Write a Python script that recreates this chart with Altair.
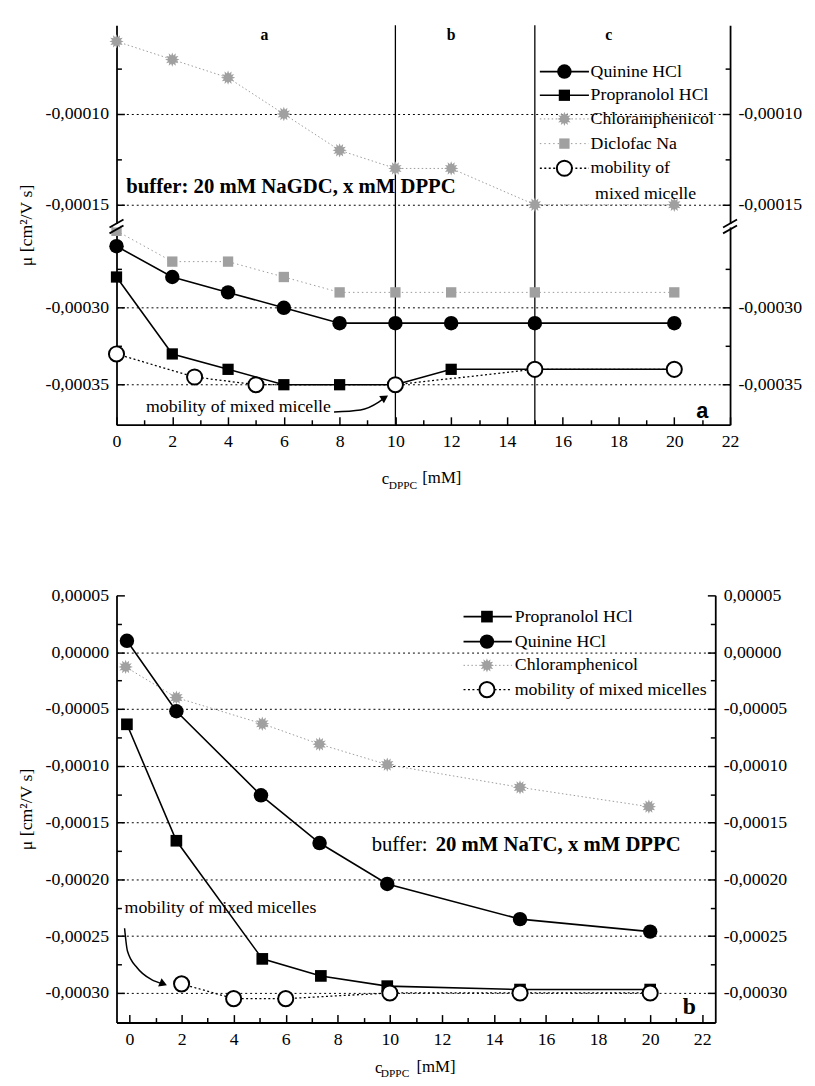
import json
import math
import altair as alt
import pandas as pd

FONT = "Liberation Serif"

# ---------------- panel a : 20 mM NaGDC, x mM DPPC ----------------
a_conc = [0, 2, 4, 6, 8, 10, 12, 15, 20]
a_quinine = [-0.00026, -0.00028, -0.00029, -0.00030, -0.00031, -0.00031, -0.00031, -0.00031, -0.00031]
a_propranolol = [-0.00028, -0.00033, -0.00034, -0.00035, -0.00035, -0.00035, -0.00034, -0.00034, -0.00034]
a_chloramphenicol = [-0.00006, -0.00007, -0.00008, -0.00010, -0.00012, -0.00013, -0.00013, -0.00015, -0.00015]
a_diclofenac = [-0.00025, -0.00027, -0.00027, -0.00028, -0.00029, -0.00029, -0.00029, -0.00029, -0.00029]
a_micelle_conc = [0, 2.8, 5, 10, 15, 20]
a_micelle = [-0.00033, -0.000345, -0.00035, -0.00035, -0.00034, -0.00034]
a_region_bounds = [10, 15]
a_region_names = ["a", "b", "c"]
a_region_centers = [5.3, 12.0, 17.65]
a_y_ticks = [-0.00035, -0.00030, -0.00015, -0.00010]
a_y_minor = [-0.000325, -0.000275, -0.000125, -0.000075]
a_legend = ["Quinine HCl", "Propranolol HCl", "Chloramphenicol", "Diclofac Na", "mobility of"]
a_legend_extra = "mixed micelle"

# ---------------- panel b : 20 mM NaTC, x mM DPPC ----------------
b_quin_conc = [-0.1, 1.8, 5.05, 7.3, 9.9, 15.0, 20.0]
b_quinine = [0.00001, -0.000052, -0.000126, -0.000168, -0.000204, -0.000235, -0.000246]
b_prop_conc = [-0.1, 1.8, 5.1, 7.35, 9.9, 15.0, 20.0]
b_propranolol = [-0.0000635, -0.000166, -0.00027, -0.000285, -0.000294, -0.000297, -0.000297]
b_chlor_conc = [-0.15, 1.8, 5.1, 7.3, 9.9, 15.0, 19.95]
b_chloramphenicol = [-0.000013, -0.00004, -0.000063, -0.000081, -0.000099, -0.000119, -0.000136]
b_mic_conc = [2.0, 4.0, 6.0, 10.0, 15.0, 20.0]
b_micelle = [-0.000292, -0.000305, -0.000305, -0.0003, -0.0003, -0.0003]
b_y_ticks = [0.00005, 0.0, -0.00005, -0.00010, -0.00015, -0.00020, -0.00025, -0.00030]
b_y_minor = [0.000025, -0.000025, -0.000075, -0.000125, -0.000175, -0.000225, -0.000275]
b_grid = b_y_ticks[1:]
b_legend = ["Propranolol HCl", "Quinine HCl", "Chloramphenicol", "mobility of mixed micelles"]

x_ticks = list(range(0, 23, 2))
x_minor = list(range(1, 22, 2))
x_title = ["c", "DPPC", "[mM]"]
y_title = "μ [cm²/V s]"

# ---------------- geometry ----------------
A_W, A_H = 622, 405
A_XDOM = [0, 22]
A_YDOM = [0, 405]          # broken axis: positions measured from the bottom
A_SPLIT = -0.0002
A_LOW0, A_LOWK = -0.000376, 78.0
A_UPREF, A_UP0, A_UPK = -0.00015, 223.0, 92.0

B_W, B_H = 607, 433
B_XDOM = [-0.5, 22.5]
B_YDOM = [-0.000326, 0.00005]


def a_pos(v):
    if v > A_SPLIT:
        return A_UP0 + (v - A_UPREF) / 0.00005 * A_UPK
    return (v - A_LOW0) / 0.00005 * A_LOWK


A_EXPR = (f"datum.mu > {A_SPLIT} ? {A_UP0} + (datum.mu - ({A_UPREF})) / 0.00005 * {A_UPK}"
          f" : (datum.mu - ({A_LOW0})) / 0.00005 * {A_LOWK}")
B_EXPR = "datum.mu"


def fmt(v):
    return ("-" if v < 0 else "") + f"{abs(v):.5f}".replace(".", ",")


def sc(dom):
    return alt.Scale(domain=dom, nice=False, zero=False)


pts = []
for i in range(24):
    r = 1.0 if i % 2 == 0 else 0.6
    ang = math.pi * i / 12
    pts.append(f"{r * math.sin(ang):.3f},{-r * math.cos(ang):.3f}")
STAR = "M" + " L".join(pts) + " Z"


def sty(kind, big=True):
    if kind == "quinine":
        return dict(line=dict(color="black", strokeWidth=1.6),
                    point=dict(shape="circle", filled=True, color="black", size=215))
    if kind == "propranolol":
        return dict(line=dict(color="black", strokeWidth=1.6),
                    point=dict(shape="square", filled=True, color="black", size=130 if big else 140))
    if kind == "chlor":
        return dict(line=dict(color="#9a9a9a", strokeWidth=1, strokeDash=[1.5, 2.5]),
                    point=dict(shape=STAR, filled=True, color="#a0a0a0", size=210))
    if kind == "diclo":
        return dict(line=dict(color="#9a9a9a", strokeWidth=1, strokeDash=[1.5, 3]),
                    point=dict(shape="square", filled=True, color="#a0a0a0", size=110))
    return dict(line=dict(color="black", strokeWidth=1.3, strokeDash=[2, 2.5]),
                point=dict(shape="circle", filled=True, fill="white", stroke="black",
                           strokeWidth=2, size=235))


def series(xv, yv, st, xdom, ydom, expr):
    df = pd.DataFrame({"x": xv, "mu": yv})
    base = alt.Chart(df).transform_calculate(yy=expr).encode(
        x=alt.X("x:Q", scale=sc(xdom), axis=None),
        y=alt.Y("yy:Q", scale=sc(ydom), axis=None))
    return [base.mark_line(**st["line"]), base.mark_point(opacity=1, **st["point"])]


def legend(names, styles, ys, x0, x1, xs_, xt, xdom, ydom):
    out = []
    for name, st, yv in zip(names, styles, ys):
        df = pd.DataFrame({"x0": [x0], "x1": [x1], "xs": [xs_], "xt": [xt], "yy": [yv], "label": [name]})
        b = alt.Chart(df)
        yenc = alt.Y("yy:Q", scale=sc(ydom), axis=None)
        out.append(b.mark_rule(**st["line"]).encode(
            x=alt.X("x0:Q", scale=sc(xdom), axis=None), x2="x1:Q", y=yenc))
        out.append(b.mark_point(opacity=1, **st["point"]).encode(
            x=alt.X("xs:Q", scale=sc(xdom), axis=None), y=yenc))
        out.append(b.mark_text(align="left", baseline="middle", font=FONT, fontSize=18, color="black").encode(
            x=alt.X("xt:Q", scale=sc(xdom), axis=None), y=yenc, text="label:N"))
    return out


def text_at(xv, yv, txt, xdom, ydom, **kw):
    df = pd.DataFrame({"x": [xv], "yy": [yv], "t": [txt]})
    opts = dict(align="left", baseline="middle", font=FONT, fontSize=18, color="black")
    opts.update(kw)
    return alt.Chart(df).mark_text(**opts).encode(
        x=alt.X("x:Q", scale=sc(xdom), axis=None),
        y=alt.Y("yy:Q", scale=sc(ydom), axis=None), text="t:N")


def arrow(xv, yv, angle, xdom, ydom):
    df = pd.DataFrame({"x": xv, "yy": yv, "o": list(range(len(xv)))})
    b = alt.Chart(df).encode(x=alt.X("x:Q", scale=sc(xdom), axis=None),
                             y=alt.Y("yy:Q", scale=sc(ydom), axis=None), order="o:Q")
    line = b.mark_line(color="black", strokeWidth=1.5, interpolate="monotone")
    head = alt.Chart(df.tail(1)).mark_point(shape="triangle-up", filled=True, color="black",
                                            size=80, opacity=1, angle=angle).encode(
        x=alt.X("x:Q", scale=sc(xdom), axis=None), y=alt.Y("yy:Q", scale=sc(ydom), axis=None))
    return [line, head]


def xtitle(xs_, ys_):
    out = []
    sizes = [17, 11.5, 17]
    for t, xp, yp, fs in zip(x_title, xs_, ys_, sizes):
        out.append(alt.Chart(pd.DataFrame({"t": [t]})).mark_text(
            align="left", baseline="middle", font=FONT, fontSize=fs, color="black").encode(
            x=alt.value(xp), y=alt.value(yp), text="t:N"))
    return out


def label_expr(pos, txt, tol):
    parts = [f"abs(datum.value - ({p})) < {tol} ? '{t}'" for p, t in zip(pos, txt)]
    return " : ".join(parts) + " : ''"


def axes(W, H, xdom, ydom, yt_pos, yt_txt, ymin_pos, grid_pos, tol):
    lexpr = label_expr(yt_pos, yt_txt, tol)
    major_test = f"indexof({json.dumps(yt_pos)}, datum.value) >= 0"

    def car(xaxis, yaxis):
        df = pd.DataFrame({"x": [xdom[0]], "yy": [ydom[0]]})
        return alt.Chart(df).mark_point(opacity=0, size=1).encode(
            x=alt.X("x:Q", scale=sc(xdom), axis=xaxis),
            y=alt.Y("yy:Q", scale=sc(ydom), axis=yaxis))

    lab = dict(values=yt_pos, labelExpr=lexpr, labelFont=FONT, labelFontSize=18, labelColor="black",
               labelPadding=8, labelFlush=False, labelOverlap=False, ticks=False, grid=False,
               domain=True, domainColor="black", domainWidth=1.8)
    yL = alt.Axis(orient="left", title=y_title, titleFont=FONT, titleFontSize=18,
                  titleFontWeight="normal", titleColor="black", titlePadding=10, **lab)
    yR = alt.Axis(orient="right", title=None, **lab)
    yG = alt.Axis(orient="left", values=grid_pos, labels=False, ticks=False, domain=False, grid=True,
                  gridColor="black", gridDash=[2, 3], gridWidth=1, title=None)
    tk = dict(values=yt_pos + ymin_pos, labels=False, domain=False, grid=False, ticks=True,
              tickColor="black", tickWidth=1.5,
              tickSize={"condition": {"test": major_test, "value": 8}, "value": 5},
              title=None, offset=-W)
    yInL = alt.Axis(orient="right", **tk)
    yInR = alt.Axis(orient="left", **tk)
    xB = alt.Axis(orient="bottom", values=x_ticks, labelFont=FONT, labelFontSize=18, labelColor="black",
                  labelPadding=8, labelFlush=False, labelOverlap=False, ticks=False, grid=False,
                  domain=True, domainColor="black", domainWidth=1.8, title=None, format="d")
    xIn = alt.Axis(orient="top", values=x_ticks + x_minor, labels=False, domain=False, grid=False,
                   ticks=True, tickColor="black", tickWidth=1.5,
                   tickSize={"condition": {"test": "datum.value % 2 == 0", "value": 8}, "value": 5},
                   title=None, offset=-H)
    return [car(None, yG), car(xB, yL), car(xIn, yR), car(None, yInL), car(None, yInR)]


def break_mark(xc, yc, xdom, ydom):
    df = pd.DataFrame({"x0": [xc - 0.25, xc - 0.25], "x1": [xc + 0.25, xc + 0.25],
                       "y0": [yc - 2, yc - 8], "y1": [yc + 6, yc]})
    gap = pd.DataFrame({"x0": [xc - 0.12], "x1": [xc + 0.12], "y0": [yc - 2], "y1": [yc + 1.5]})
    r = alt.Chart(gap).mark_rect(color="white").encode(
        x=alt.X("x0:Q", scale=sc(xdom), axis=None), x2="x1:Q",
        y=alt.Y("y0:Q", scale=sc(ydom), axis=None), y2="y1:Q")
    l = alt.Chart(df).mark_rule(color="black", strokeWidth=1.8).encode(
        x=alt.X("x0:Q", scale=sc(xdom), axis=None), x2="x1:Q",
        y=alt.Y("y0:Q", scale=sc(ydom), axis=None), y2="y1:Q")
    return [r, l]


# ---------------- build panel a ----------------
a_layers = axes(A_W, A_H, A_XDOM, A_YDOM, [a_pos(v) for v in a_y_ticks], [fmt(v) for v in a_y_ticks],
                [a_pos(v) for v in a_y_minor], [a_pos(v) for v in a_y_ticks], 0.5)
a_layers.append(alt.Chart(pd.DataFrame({"x": a_region_bounds})).mark_rule(color="black", strokeWidth=1.3).encode(
    x=alt.X("x:Q", scale=sc(A_XDOM), axis=None)))
for nm, xc in zip(a_region_names, a_region_centers):
    a_layers.append(text_at(xc, 395, nm, A_XDOM, A_YDOM, align="center", fontSize=16, fontWeight="bold"))
a_layers += series(a_conc, a_chloramphenicol, sty("chlor"), A_XDOM, A_YDOM, A_EXPR)
a_layers += series(a_conc, a_diclofenac, sty("diclo"), A_XDOM, A_YDOM, A_EXPR)
a_layers += series(a_conc, a_quinine, sty("quinine"), A_XDOM, A_YDOM, A_EXPR)
a_layers += series(a_conc, a_propranolol, sty("propranolol"), A_XDOM, A_YDOM, A_EXPR)
a_layers += series(a_micelle_conc, a_micelle, sty("micelle"), A_XDOM, A_YDOM, A_EXPR)
a_layers += legend(a_legend, [sty("quinine"), sty("propranolol"), sty("chlor"), sty("diclo"), sty("micelle")],
                   [358, 334, 310, 285, 260], 15.18, 16.94, 16.06, 17.0, A_XDOM, A_YDOM)
a_layers.append(text_at(17.16, 234, a_legend_extra, A_XDOM, A_YDOM))
a_layers.append(text_at(0.35, 241, "buffer: 20 mM NaGDC, x mM DPPC", A_XDOM, A_YDOM, fontSize=21, fontWeight="bold"))
a_layers.append(text_at(1.06, 18, "mobility of mixed micelle", A_XDOM, A_YDOM))
a_layers += arrow([7.8, 8.75, 9.4, 9.62], [13, 15, 23, 27.5], 58, A_XDOM, A_YDOM)
a_layers.append(text_at(21.0, 14, "a", A_XDOM, A_YDOM, align="center", font="Liberation Sans",
                        fontSize=22, fontWeight="bold"))
a_layers += break_mark(0, 202, A_XDOM, A_YDOM)
a_layers += break_mark(22, 202, A_XDOM, A_YDOM)
a_layers += xtitle([269, 276, 310], [A_H + 55, A_H + 62, A_H + 54])

panel_a = alt.layer(*a_layers).resolve_axis(x="independent", y="independent").properties(width=A_W, height=A_H)

# ---------------- build panel b ----------------
b_layers = axes(B_W, B_H, B_XDOM, B_YDOM, b_y_ticks, [fmt(v) for v in b_y_ticks], b_y_minor, b_grid, 1e-7)
b_layers += series(b_chlor_conc, b_chloramphenicol, sty("chlor"), B_XDOM, B_YDOM, B_EXPR)
b_layers += series(b_quin_conc, b_quinine, sty("quinine"), B_XDOM, B_YDOM, B_EXPR)
b_layers += series(b_prop_conc, b_propranolol, sty("propranolol", big=False), B_XDOM, B_YDOM, B_EXPR)
b_layers += series(b_mic_conc, b_micelle, sty("micelle"), B_XDOM, B_YDOM, B_EXPR)
b_layers += legend(b_legend, [sty("propranolol", big=False), sty("quinine"), sty("chlor"), sty("micelle")],
                   [0.0000313, 0.0000093, -0.0000116, -0.000033], 12.83, 14.69, 13.73, 14.8, B_XDOM, B_YDOM)
b_layers.append(text_at(9.3, -0.00017, "buffer:", B_XDOM, B_YDOM, fontSize=21))
b_layers.append(text_at(11.76, -0.00017, "20 mM NaTC, x mM DPPC", B_XDOM, B_YDOM, fontSize=21, fontWeight="bold"))
b_layers.append(text_at(-0.19, -0.000225, "mobility of mixed micelles", B_XDOM, B_YDOM))
b_layers += arrow([-0.19, -0.08, 0.3, 0.83, 1.3], [-0.000243, -0.000263, -0.000278, -0.000288, -0.000292],
                  113, B_XDOM, B_YDOM)
b_layers.append(text_at(21.5, -0.0003125, "b", B_XDOM, B_YDOM, align="center", fontSize=24, fontWeight="bold"))
b_layers += xtitle([262, 268, 304], [B_H + 46, B_H + 52, B_H + 45])

panel_b = alt.layer(*b_layers).resolve_axis(x="independent", y="independent").properties(width=B_W, height=B_H)

chart = alt.vconcat(panel_a, panel_b, spacing=96).properties(
    padding={"left": 9, "top": 9, "right": 5, "bottom": 5}
).configure_view(stroke=None)

chart.save("out.html", embed_options={"renderer": "svg", "actions": False})
